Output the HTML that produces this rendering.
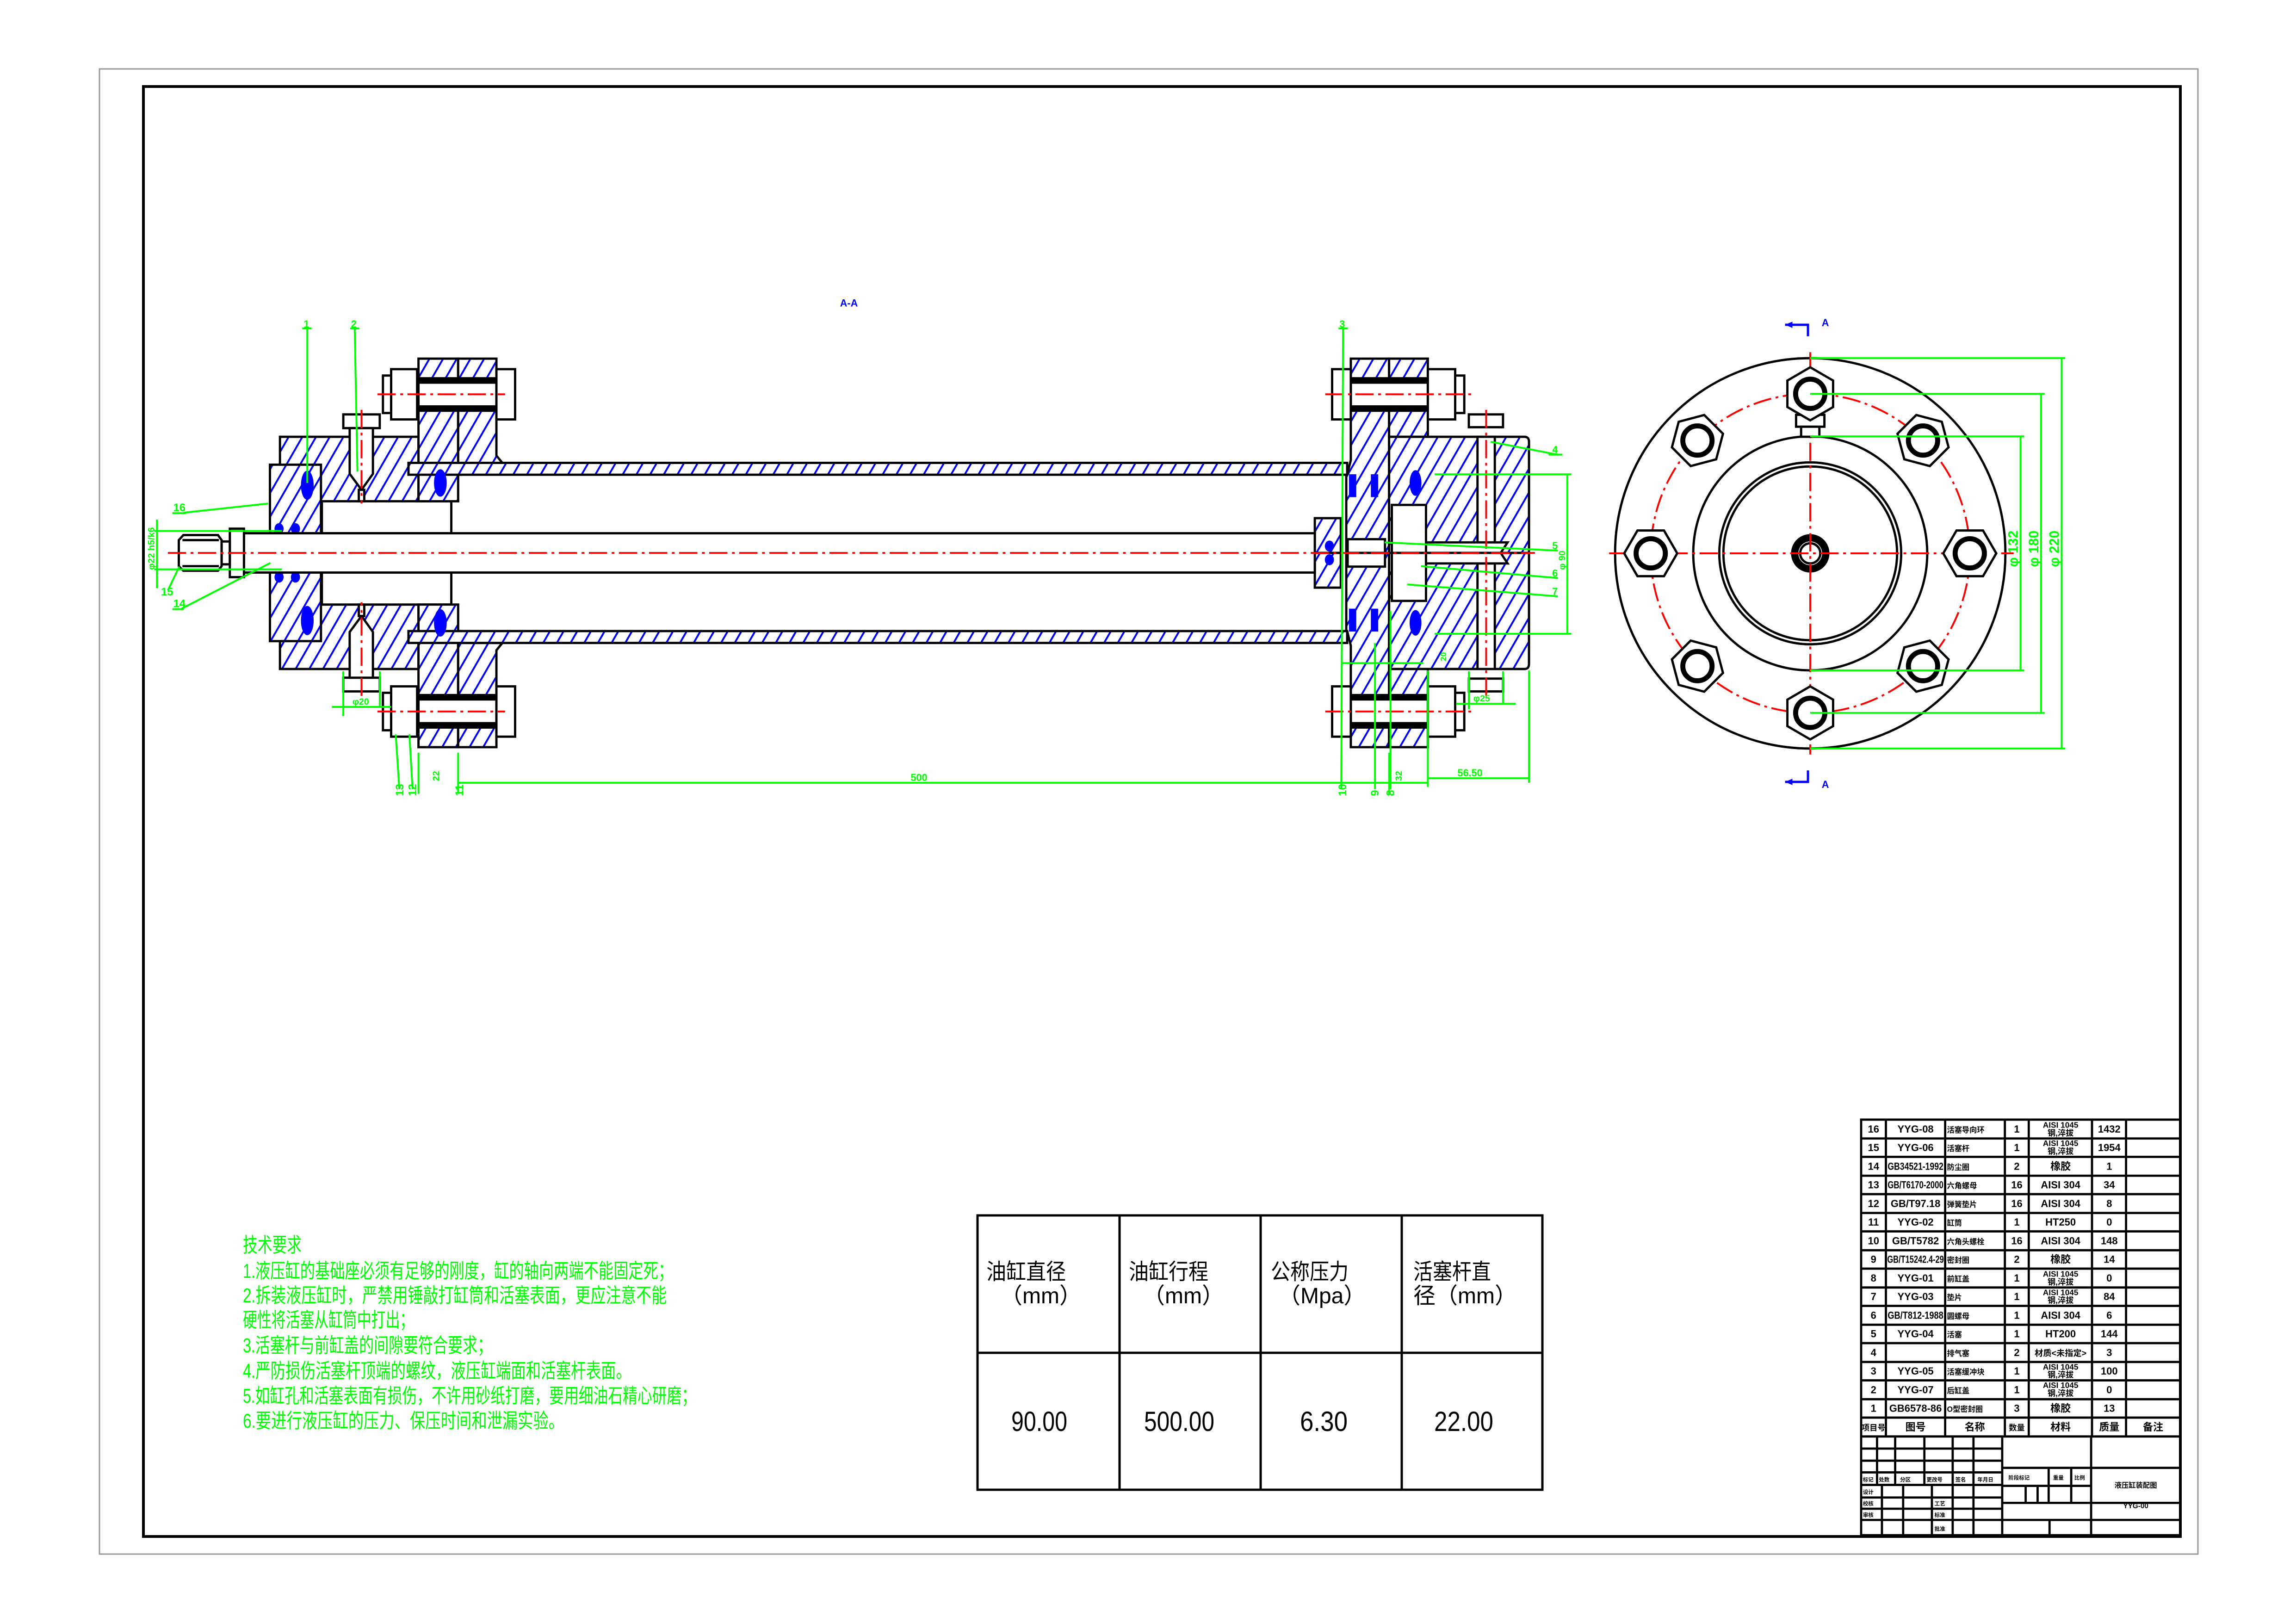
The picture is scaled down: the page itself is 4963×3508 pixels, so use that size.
<!DOCTYPE html>
<html><head><meta charset="utf-8"><style>
html,body{margin:0;padding:0;background:#fff}
svg{display:block}
.k{fill:inherit;stroke:#000;stroke-width:5}
.o{fill:#fff;stroke:#000;stroke-width:5}
.n{fill:none;stroke:#000;stroke-width:5}
.g{stroke:#0f0;stroke-width:4;fill:none}
.r{stroke:#f00;stroke-width:4;stroke-dasharray:40 10 6 10;fill:none}
.gt{fill:#0f0;font-family:"Liberation Sans",sans-serif;font-size:30px;font-weight:bold}
.tb{font-family:"Liberation Sans","Noto Sans CJK SC",sans-serif;font-size:23px;font-weight:bold;fill:#000}
.tl{stroke:#000;stroke-width:5;fill:none}
</style></head><body>
<svg width="4963" height="3508" viewBox="0 0 4963 3508" xmlns="http://www.w3.org/2000/svg">
<defs>
<pattern id="h" patternUnits="userSpaceOnUse" width="26" height="26" patternTransform="rotate(30)">
<rect width="26" height="26" fill="#fff"/><line x1="2" y1="0" x2="2" y2="26" stroke="#00f" stroke-width="4"/></pattern>
<pattern id="h2" patternUnits="userSpaceOnUse" width="26" height="26" patternTransform="rotate(-30)">
<rect width="26" height="26" fill="#fff"/><line x1="2" y1="0" x2="2" y2="26" stroke="#00f" stroke-width="4"/></pattern>
<g id="top">
<rect class="k" x="606" y="949" width="304" height="141"/>
<rect class="o" x="698" y="1090" width="284" height="70"/>
<rect class="k" x="584" y="1010" width="112" height="150"/>
<rect class="k" x="910" y="778" width="87" height="312"/>
<path class="k" d="M997 778 H1081 V990 L1094 1006 H1000 V1032 H997 Z"/>
<rect class="k" x="888" y="1006" width="2060" height="26"/>
<rect class="o" x="910" y="821" width="171" height="71"/>
<line x1="910" y1="827" x2="1081" y2="827" stroke="#000" stroke-width="12"/>
<line x1="910" y1="886" x2="1081" y2="886" stroke="#000" stroke-width="12"/>
<rect class="o" x="850" y="801" width="57" height="110"/><rect class="o" x="832" y="815" width="18" height="82"/>
<rect class="o" x="1081" y="801" width="41" height="110"/>
<line class="r" x1="820" y1="856" x2="1100" y2="856"/>
<rect class="o" x="745" y="900" width="80" height="30"/>
<path class="o" d="M759 930 V1030 L785 1065 L810 1030 V930 Z"/>
<rect class="o" x="779" y="1065" width="12" height="25"/>
<line class="r" x1="785" y1="890" x2="785" y2="1095"/>
<ellipse cx="666" cy="1055" rx="14" ry="32" fill="#00f"/>
<ellipse cx="958" cy="1050" rx="14" ry="30" fill="#00f"/>
<ellipse cx="604" cy="1150" rx="10" ry="12" fill="#00f"/>
<ellipse cx="640" cy="1150" rx="10" ry="12" fill="#00f"/>
<path class="k" d="M2956 778 H3040 V1203 H2946 V1032 H2948 L2956 1000 Z"/>
<rect class="k" x="3040" y="778" width="85" height="171"/>
<path class="k" d="M3040 949 H3337 Q3347 949 3347 960 V1203 H3040 Z"/>
<rect class="o" x="3046" y="1098" width="75" height="105"/>
<rect class="o" x="3234" y="949" width="38" height="231"/>
<path class="o" d="M3121 1180 H3300 L3285 1203 H3121 Z"/>
<rect class="o" x="3215" y="900" width="75" height="28"/>
<line class="r" x1="3253" y1="890" x2="3253" y2="1200"/>
<rect class="o" x="2956" y="821" width="169" height="71"/>
<line x1="2956" y1="827" x2="3125" y2="827" stroke="#000" stroke-width="12"/>
<line x1="2956" y1="886" x2="3125" y2="886" stroke="#000" stroke-width="12"/>
<rect class="o" x="2915" y="801" width="41" height="110"/>
<rect class="o" x="3125" y="801" width="60" height="110"/><rect class="o" x="3185" y="815" width="20" height="82"/>
<line class="r" x1="2900" y1="856" x2="3220" y2="856"/>
<rect class="k" x="2877" y="1127" width="57" height="76"/>
<rect class="o" x="2949" y="1173" width="82" height="30"/>
<rect x="2952" y="1031" width="16" height="50" fill="#00f"/>
<rect x="3000" y="1031" width="16" height="50" fill="#00f"/>
<ellipse cx="3098" cy="1050" rx="13" ry="28" fill="#00f"/>
<ellipse cx="2909" cy="1188" rx="10" ry="12" fill="#00f"/>
</g>
</defs>
<rect width="4963" height="3508" fill="#fff"/>
<rect x="215" y="149" width="4536" height="3210" fill="none" stroke="#999" stroke-width="3"/>
<rect x="310" y="187" width="4403" height="3134" fill="none" stroke="#000" stroke-width="6"/>

<g transform="translate(8.25,6.5) scale(0.985,0.988)">
<use href="#top" fill="url(#h)"/>
<use href="#top" fill="url(#h2)" transform="translate(0,2406) scale(1,-1)"/>
<rect class="o" x="527" y="1160" width="2350" height="86"/>
<rect class="o" x="496" y="1150" width="31" height="106"/>
<path class="o" d="M394 1164 H470 L478 1175 V1232 L470 1242 H394 L384 1232 V1175 Z"/>
<line class="n" x1="392" y1="1175" x2="472" y2="1175"/><line class="n" x1="392" y1="1232" x2="472" y2="1232"/>
<rect class="n" x="478" y="1178" width="18" height="50"/>
<line class="r" x1="360" y1="1203" x2="3360" y2="1203"/>
<text x="1835" y="664" fill="#00f" font-family="Liberation Sans" font-size="22" font-weight="bold">A-A</text>

<g class="g">
<line x1="666" y1="712" x2="666" y2="1050"/><line x1="655" y1="712" x2="675" y2="712"/>
<line x1="770" y1="712" x2="776" y2="1025"/><line x1="760" y1="712" x2="780" y2="712"/>
<line x1="2939" y1="712" x2="2935" y2="1720"/><line x1="2929" y1="712" x2="2949" y2="712"/>
<line x1="3263" y1="960" x2="3410" y2="988"/><line x1="3390" y1="988" x2="3420" y2="988"/>
<line x1="3030" y1="1180" x2="3410" y2="1198"/>
<line x1="3110" y1="1232" x2="3410" y2="1258"/>
<line x1="3080" y1="1272" x2="3410" y2="1298"/>
<line x1="3140" y1="1031" x2="3440" y2="1031"/><line x1="3140" y1="1380" x2="3440" y2="1380"/>
<line x1="3431" y1="1031" x2="3431" y2="1380"/>
<line x1="395" y1="1115" x2="580" y2="1095"/><line x1="370" y1="1116" x2="400" y2="1116"/>
<line x1="390" y1="1325" x2="585" y2="1225"/><line x1="370" y1="1326" x2="395" y2="1326"/>
<line x1="360" y1="1285" x2="385" y2="1233"/>
<line x1="336" y1="1130" x2="336" y2="1280"/>
<line x1="330" y1="1155" x2="610" y2="1155"/><line x1="330" y1="1239" x2="610" y2="1239"/>
<line x1="720" y1="1540" x2="850" y2="1540"/><line x1="745" y1="1462" x2="745" y2="1560"/><line x1="825" y1="1462" x2="825" y2="1540"/>
<line x1="3187" y1="1533" x2="3318" y2="1533"/><line x1="3215" y1="1462" x2="3215" y2="1545"/><line x1="3290" y1="1462" x2="3290" y2="1533"/>
<line x1="2935" y1="1444" x2="3115" y2="1444"/>
<line x1="995" y1="1706" x2="3125" y2="1706"/>
<line x1="997" y1="1640" x2="997" y2="1730"/><line x1="910" y1="1640" x2="910" y2="1730"/>
<line x1="3125" y1="1460" x2="3125" y2="1715"/><line x1="3347" y1="1460" x2="3347" y2="1706"/>
<line x1="3125" y1="1696" x2="3347" y2="1696"/>
<line x1="3040" y1="1640" x2="3040" y2="1730"/>
<line x1="860" y1="1600" x2="868" y2="1720"/><line x1="890" y1="1600" x2="897" y2="1720"/>
<line x1="3009" y1="1400" x2="3009" y2="1720"/><line x1="3043" y1="1330" x2="3043" y2="1720"/>
</g>
<g class="gt">
<text x="658" y="710" font-size="22">1</text><text x="762" y="710" font-size="22">2</text><text x="2931" y="710" font-size="22">3</text>
<text x="3398" y="985" font-size="22">4</text><text x="3398" y="1195" font-size="22">5</text><text x="3398" y="1255" font-size="22">6</text><text x="3398" y="1295" font-size="22">7</text>
<text x="372" y="1112" font-size="24">16</text><text x="345" y="1296" font-size="24">15</text><text x="372" y="1322" font-size="24">14</text>
<text transform="translate(330,1240) rotate(-90)" font-size="20">φ22 h5/k6</text>
<text transform="translate(3426,1240) rotate(-90)" font-size="20">φ 90</text>
<text x="765" y="1535" font-size="20">φ20</text><text x="3225" y="1528" font-size="20">φ25</text>
<text x="1990" y="1702" font-size="22">500</text>
<text x="3190" y="1692" font-size="22">56.50</text>
<text transform="translate(955,1702) rotate(-90)" font-size="20">22</text>
<text transform="translate(3068,1702) rotate(-90)" font-size="20">32</text>
<text transform="translate(3165,1440) rotate(-90)" font-size="18">20</text>
<text transform="translate(877,1735) rotate(-90)" font-size="24">13</text>
<text transform="translate(905,1735) rotate(-90)" font-size="24">12</text>
<text transform="translate(1008,1735) rotate(-90)" font-size="24">11</text>
<text transform="translate(2946,1735) rotate(-90)" font-size="24">10</text>
<text transform="translate(3017,1735) rotate(-90)" font-size="24">9</text>
<text transform="translate(3051,1735) rotate(-90)" font-size="24">8</text>
</g>
</g>

<!-- end view -->
<g transform="translate(3913,1196) scale(0.988)">
<circle r="427" class="n"/>
<circle r="256" class="n"/>
<circle r="199" class="n"/><circle r="190" class="n"/>
<circle r="34" fill="none" stroke="#000" stroke-width="16"/><circle r="22" class="n" stroke-width="3"/>
<circle r="349" class="r"/>
<line class="r" x1="-440" y1="0" x2="445" y2="0"/><line class="r" x1="0" y1="-440" x2="0" y2="440"/>
<rect class="o" x="-31" y="-303" width="62" height="26"/><rect class="o" x="-20" y="-277" width="40" height="22"/>
<g id="bolt"><g transform="translate(0,-349)"><polygon class="o" points="0,-58 50,-29 50,29 0,58 -50,29 -50,-29"/><circle r="32" fill="none" stroke="#000" stroke-width="11"/></g></g>
<use href="#bolt" transform="rotate(45)"/><use href="#bolt" transform="rotate(90)"/><use href="#bolt" transform="rotate(135)"/>
<use href="#bolt" transform="rotate(180)"/><use href="#bolt" transform="rotate(225)"/><use href="#bolt" transform="rotate(270)"/><use href="#bolt" transform="rotate(315)"/>
<g class="g">
<line x1="0" y1="-256" x2="468" y2="-256"/><line x1="0" y1="256" x2="468" y2="256"/><line x1="460" y1="-256" x2="460" y2="256"/>
<line x1="0" y1="-349" x2="513" y2="-349"/><line x1="0" y1="349" x2="513" y2="349"/><line x1="505" y1="-349" x2="505" y2="349"/>
<line x1="0" y1="-427" x2="558" y2="-427"/><line x1="0" y1="427" x2="558" y2="427"/><line x1="550" y1="-427" x2="550" y2="427"/>
</g>
<g class="gt" font-size="22"><text transform="translate(454,30) rotate(-90)">φ 132</text><text transform="translate(499,30) rotate(-90)">φ 180</text><text transform="translate(544,30) rotate(-90)">φ 220</text></g>
<g stroke="#00f" stroke-width="5" fill="none"><path d="M-55 -500 H-5 V-475"/><path d="M-55 500 H-5 V475"/></g>
<path d="M-55 -500 l16 -7 v14z M-55 500 l16 -7 v14z" fill="#00f"/>
<text x="25" y="-497" fill="#00f" font-family="Liberation Sans" font-size="22" font-weight="bold">A</text>
<text x="25" y="513" fill="#00f" font-family="Liberation Sans" font-size="22" font-weight="bold">A</text>
</g>

<g fill="#0f0" font-family="Liberation Sans,Noto Sans CJK SC,sans-serif" font-size="44">
<text x="525" y="2706" textLength="127" lengthAdjust="spacingAndGlyphs">技术要求</text>
<text x="525" y="2762" textLength="930" lengthAdjust="spacingAndGlyphs">1.液压缸的基础座必须有足够的刚度，缸的轴向两端不能固定死；</text>
<text x="525" y="2815" textLength="916" lengthAdjust="spacingAndGlyphs">2.拆装液压缸时，严禁用锤敲打缸筒和活塞表面，更应注意不能</text>
<text x="525" y="2868" textLength="370" lengthAdjust="spacingAndGlyphs">硬性将活塞从缸筒中打出；</text>
<text x="525" y="2923" textLength="539" lengthAdjust="spacingAndGlyphs">3.活塞杆与前缸盖的间隙要符合要求；</text>
<text x="525" y="2978" textLength="839" lengthAdjust="spacingAndGlyphs">4.严防损伤活塞杆顶端的螺纹，液压缸端面和活塞杆表面。</text>
<text x="525" y="3032" textLength="980" lengthAdjust="spacingAndGlyphs">5.如缸孔和活塞表面有损伤，不许用砂纸打磨，要用细油石精心研磨；</text>
<text x="525" y="3086" textLength="694" lengthAdjust="spacingAndGlyphs">6.要进行液压缸的压力、保压时间和泄漏实验。</text>
</g>

<g class="tl"><rect x="2113" y="2627" width="1221" height="593"/>
<line x1="2420" y1="2627" x2="2420" y2="3220"/><line x1="2725" y1="2627" x2="2725" y2="3220"/><line x1="3030" y1="2627" x2="3030" y2="3220"/>
<line x1="2113" y1="2924" x2="3334" y2="2924"/></g>
<g font-family="Liberation Sans,Noto Sans CJK SC,sans-serif" font-size="48" fill="#000">
<text x="2132" y="2765" textLength="172" lengthAdjust="spacingAndGlyphs">油缸直径</text><text x="2162" y="2817">（mm）</text>
<text x="2440" y="2765" textLength="172" lengthAdjust="spacingAndGlyphs">油缸行程</text><text x="2470" y="2817">（mm）</text>
<text x="2747" y="2765" textLength="168" lengthAdjust="spacingAndGlyphs">公称压力</text><text x="2763" y="2817">（Mpa）</text>
<text x="3055" y="2765" textLength="168" lengthAdjust="spacingAndGlyphs">活塞杆直</text><text x="3055" y="2817">径（mm）</text>
<g font-size="60"><text x="2186" y="3093" textLength="121" lengthAdjust="spacingAndGlyphs">90.00</text>
<text x="2473" y="3093" textLength="152" lengthAdjust="spacingAndGlyphs">500.00</text>
<text x="2810" y="3093" textLength="103" lengthAdjust="spacingAndGlyphs">6.30</text>
<text x="3100" y="3093" textLength="128" lengthAdjust="spacingAndGlyphs">22.00</text></g>
</g>

<g transform="translate(4023,2420) scale(0.956,0.97) translate(-4032,-2424)">
<g class="tl">
<rect x="4032" y="2424" width="722" height="926"/>
<line x1="4088" y1="2424" x2="4088" y2="3130"/><line x1="4222" y1="2424" x2="4222" y2="3130"/>
<line x1="4357" y1="2424" x2="4357" y2="3130"/><line x1="4411" y1="2424" x2="4411" y2="3130"/>
<line x1="4554" y1="2424" x2="4554" y2="3130"/><line x1="4631" y1="2424" x2="4631" y2="3130"/>
<path d="M4032 2466H4754M4032 2507H4754M4032 2549H4754M4032 2590H4754M4032 2632H4754M4032 2673H4754M4032 2715H4754M4032 2756H4754M4032 2798H4754M4032 2839H4754M4032 2881H4754M4032 2922H4754M4032 2964H4754M4032 3005H4754M4032 3047H4754M4032 3088H4754M4032 3130H4754"/>
<line x1="4351" y1="3130" x2="4351" y2="3350"/><line x1="4552" y1="3130" x2="4552" y2="3350"/>
<path d="M4032 3157H4351M4032 3184H4351M4032 3210H4351M4032 3238H4351M4032 3266H4351M4032 3291H4351M4032 3316H4351"/>
<path d="M4068 3130V3238M4109 3130V3238M4175 3130V3238M4239 3130V3350M4286 3130V3350"/>
<path d="M4079 3238V3350M4127 3238V3350M4192 3238V3350"/>
<path d="M4351 3200H4754M4351 3240H4552M4351 3278H4754M4351 3316H4754"/>
<path d="M4456 3200V3278M4507 3200V3278M4404 3240V3278M4431 3240V3278M4458 3316V3350"/>
</g>
<g class="tb">
<g text-anchor="middle">
<text x="4060" y="2453">16</text><text x="4060" y="2494">15</text><text x="4060" y="2536">14</text><text x="4060" y="2577">13</text><text x="4060" y="2619">12</text><text x="4060" y="2660">11</text><text x="4060" y="2702">10</text><text x="4060" y="2743">9</text><text x="4060" y="2785">8</text><text x="4060" y="2826">7</text><text x="4060" y="2868">6</text><text x="4060" y="2909">5</text><text x="4060" y="2951">4</text><text x="4060" y="2992">3</text><text x="4060" y="3034">2</text><text x="4060" y="3075">1</text><text x="4060" y="3117" font-size="18">项目号</text>
<text x="4155" y="2453">YYG-08</text><text x="4155" y="2494">YYG-06</text><text x="4155" y="2536" textLength="126" lengthAdjust="spacingAndGlyphs">GB34521-1992</text><text x="4155" y="2577" textLength="126" lengthAdjust="spacingAndGlyphs">GB/T6170-2000</text><text x="4155" y="2619">GB/T97.18</text><text x="4155" y="2660">YYG-02</text><text x="4155" y="2702">GB/T5782</text><text x="4155" y="2743" textLength="128" lengthAdjust="spacingAndGlyphs">GB/T15242.4-29</text><text x="4155" y="2785">YYG-01</text><text x="4155" y="2826">YYG-03</text><text x="4155" y="2868" textLength="126" lengthAdjust="spacingAndGlyphs">GB/T812-1988</text><text x="4155" y="2909">YYG-04</text><text x="4155" y="2992">YYG-05</text><text x="4155" y="3034">YYG-07</text><text x="4155" y="3075">GB6578-86</text><text x="4155" y="3117">图号</text>
<text x="4289" y="3117">名称</text>
<text x="4384" y="2453">1</text><text x="4384" y="2494">1</text><text x="4384" y="2536">2</text><text x="4384" y="2577">16</text><text x="4384" y="2619">16</text><text x="4384" y="2660">1</text><text x="4384" y="2702">16</text><text x="4384" y="2743">2</text><text x="4384" y="2785">1</text><text x="4384" y="2826">1</text><text x="4384" y="2868">1</text><text x="4384" y="2909">1</text><text x="4384" y="2951">2</text><text x="4384" y="2992">1</text><text x="4384" y="3034">1</text><text x="4384" y="3075">3</text><text x="4384" y="3117" font-size="18">数量</text>
<g font-size="18"><text x="4483" y="2442">AISI 1045</text><text x="4483" y="2460">钢,淬拔</text><text x="4483" y="2483">AISI 1045</text><text x="4483" y="2501">钢,淬拔</text>
<text x="4483" y="2774">AISI 1045</text><text x="4483" y="2792">钢,淬拔</text><text x="4483" y="2815">AISI 1045</text><text x="4483" y="2833">钢,淬拔</text>
<text x="4483" y="2981">AISI 1045</text><text x="4483" y="2999">钢,淬拔</text><text x="4483" y="3022">AISI 1045</text><text x="4483" y="3040">钢,淬拔</text></g>
<text x="4483" y="2536">橡胶</text><text x="4483" y="2577">AISI 304</text><text x="4483" y="2619">AISI 304</text><text x="4483" y="2660">HT250</text><text x="4483" y="2702">AISI 304</text><text x="4483" y="2743">橡胶</text><text x="4483" y="2868">AISI 304</text><text x="4483" y="2909">HT200</text><text x="4483" y="2951" font-size="19">材质&lt;未指定&gt;</text><text x="4483" y="3075">橡胶</text><text x="4483" y="3117">材料</text>
<text x="4593" y="2453">1432</text><text x="4593" y="2494">1954</text><text x="4593" y="2536">1</text><text x="4593" y="2577">34</text><text x="4593" y="2619">8</text><text x="4593" y="2660">0</text><text x="4593" y="2702">148</text><text x="4593" y="2743">14</text><text x="4593" y="2785">0</text><text x="4593" y="2826">84</text><text x="4593" y="2868">6</text><text x="4593" y="2909">144</text><text x="4593" y="2951">3</text><text x="4593" y="2992">100</text><text x="4593" y="3034">0</text><text x="4593" y="3075">13</text><text x="4593" y="3117">质量</text>
<text x="4692" y="3117">备注</text>
<text x="4653" y="3244" font-size="16">液压缸装配图</text><text x="4653" y="3290" font-size="16">YYG-00</text>
</g>
<g font-size="17">
<text x="4226" y="2453">活塞导向环</text><text x="4226" y="2494">活塞杆</text><text x="4226" y="2536">防尘圈</text><text x="4226" y="2577">六角螺母</text><text x="4226" y="2619">弹簧垫片</text><text x="4226" y="2660">缸筒</text><text x="4226" y="2702">六角头螺栓</text><text x="4226" y="2743">密封圈</text><text x="4226" y="2785">前缸盖</text><text x="4226" y="2826">垫片</text><text x="4226" y="2868">圆螺母</text><text x="4226" y="2909">活塞</text><text x="4226" y="2951">排气塞</text><text x="4226" y="2992">活塞缓冲块</text><text x="4226" y="3034">后缸盖</text><text x="4226" y="3075">O型密封圈</text>
</g>
<g font-size="12"><text x="4036" y="3230">标记</text><text x="4072" y="3230">处数</text><text x="4120" y="3230">分区</text><text x="4180" y="3230">更改号</text><text x="4245" y="3230">签名</text><text x="4295" y="3230">年月日</text>
<text x="4036" y="3258">设计</text><text x="4036" y="3284">校核</text><text x="4036" y="3309">审核</text><text x="4198" y="3284">工艺</text><text x="4198" y="3309">标准</text><text x="4198" y="3340">批准</text>
<text x="4365" y="3226">阶段标记</text><text x="4466" y="3226">重量</text><text x="4514" y="3226">比例</text></g>
</g>
</g>
</svg>
</body></html>
